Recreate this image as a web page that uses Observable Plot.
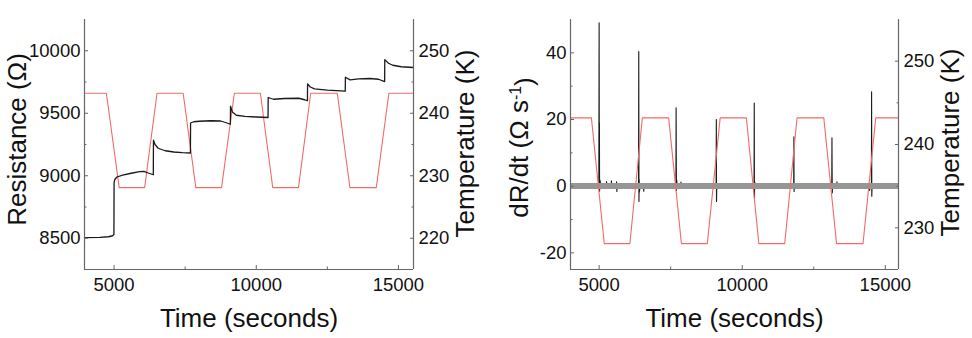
<!DOCTYPE html>
<html><head><meta charset="utf-8">
<script src="https://cdn.jsdelivr.net/npm/d3@7"></script>
<script src="https://cdn.jsdelivr.net/npm/@observablehq/plot@0.6"></script>
<style>
body{margin:0;background:#fff;}
#wrap{display:flex;width:972px;height:338px;background:#fff;}
</style></head><body><div id="wrap"></div>
<script>
// ---------- data ----------
const timeDomainLeft = [3960, 15530];
const timeDomainRight = [4000, 15460];
const resDomain = [8250, 10250];
const rateDomain = [-25, 50];
const tempDomainLeft = [215, 255];
const tempDomainRight = [225, 255];

const timeTicks = [5000, 10000, 15000];
const timeMinor = [7500, 12500];
const resTicks = [8500, 9000, 9500, 10000];
const resMinor = [8750, 9250, 9750];
const rateTicks = [-20, 0, 20, 40];
const rateMinor = [-10, 10, 30];
const tempTicksLeft = [220, 230, 240, 250];
const tempMinorLeft = [225, 235, 245];
const tempTicksRight = [230, 240, 250];
const tempMinorRight = [235, 245];

// temperature program (K)
const tempTime = [3960, 4730, 5180, 6075, 6510, 7430, 7875, 8780, 9230, 10145, 10580, 11485, 11915, 12850, 13295, 14220, 14665, 15530];
const tempK    = [243.2, 243.2, 228.1, 228.1, 243.2, 243.2, 228.1, 228.1, 243.2, 243.2, 228.1, 228.1, 243.2, 243.2, 228.1, 228.1, 243.2, 243.2];

// resistance (time s, ohm)
const resistance = [
  [3960,8505],[4500,8507],[4800,8512],[4950,8520],[4995,8530],[5000,8940],[5020,8968],[5100,8990],[5300,9005],[5600,9020],[5900,9033],[6050,9035],[6200,9022],[6380,9008],
  [6385,9284],[6440,9250],[6550,9220],[6800,9200],[7100,9190],[7400,9185],[7685,9182],
  [7690,9422],[7800,9432],[8000,9436],[8400,9440],[8750,9438],[9000,9420],[9090,9412],
  [9095,9556],[9160,9510],[9300,9484],[9600,9475],[10000,9470],[10415,9466],
  [10420,9626],[10600,9612],[11000,9618],[11500,9620],[11700,9608],[11800,9600],
  [11805,9735],[11900,9710],[12050,9695],[12500,9685],[13130,9677],
  [13135,9788],[13300,9767],[13600,9775],[14000,9778],[14300,9772],[14515,9753],
  [14520,9929],[14650,9900],[14800,9884],[15100,9872],[15530,9866]
];

// dR/dt (time s, ohm/s)
const dRdt = [
  [4000,0],[4990,0],[5000,49],[5006,4],[5010,19],[5016,-1.5],[5030,1.8],[5060,0],
  [5250,0],[5260,1.4],[5270,0],[5420,0],[5430,1.6],[5440,0],[5600,0],[5610,1.3],[5620,-1.6],[5630,0],
  [6378,0],[6385,40.4],[6392,-4.6],[6400,2],[6408,-1.8],[6430,0],[6550,0],[6560,-1.5],[6570,0],
  [7683,0],[7690,23.5],[7696,8],[7702,-1.3],[7710,1.8],[7730,0],[7850,0],[7860,1.2],[7870,0],
  [9088,0],[9095,20],[9102,-4.6],[9110,0],
  [10413,0],[10420,24.9],[10427,-3.5],[10436,1.2],[10450,0],
  [11798,0],[11805,14.8],[11812,-1.6],[11820,0],
  [13128,0],[13135,14.5],[13141,3.8],[13147,-2],[13157,0],[13300,0],[13310,1.3],[13320,0],
  [14440,0],[14450,-1.3],[14460,0],[14513,0],[14520,28.3],[14527,-3],[14536,0],[15460,0]
];

// reference measurement noise band (ohm/s)
const noiseTime = [4000, 15460];
const noiseLow = [-1.0, -1.0];
const noiseHigh = [0.8, 0.8];

// ---------- style ----------
const FONT = "'Liberation Sans', Arial, Helvetica, sans-serif";
const frameColor = "#666";
const textColor = "#111";
const red = "#f26b6b";
const fmt = d => String(d);

function axes(xTicks, xMinor, yTicks, yMinor, rTicks, rMinor, rFormat) {
  return [
    Plot.axisX(xTicks, {tickSize: -4, tickPadding: 12, tickFormat: fmt, stroke: frameColor, fill: textColor, label: null, fontSize: 18.5}),
    Plot.axisX(xMinor, {tickSize: -2.5, text: null, stroke: frameColor, label: null}),
    Plot.axisY(yTicks, {anchor: "left", tickSize: -4, tickPadding: 8, tickFormat: fmt, stroke: frameColor, fill: textColor, label: null, fontSize: 18.5}),
    Plot.axisY(yMinor, {anchor: "left", tickSize: -2.5, text: null, stroke: frameColor, label: null}),
    Plot.axisY(rTicks, {anchor: "right", tickSize: -4, tickPadding: 9, tickFormat: rFormat, stroke: frameColor, fill: textColor, label: null, fontSize: 18.5}),
    Plot.axisY(rMinor, {anchor: "right", tickSize: -2.5, text: null, stroke: frameColor, label: null})
  ];
}

const tempRows = tempTime.map((t, i) => ({t, T: tempK[i]}));

// ---------- left panel ----------
const tL = d3.scaleLinear(tempDomainLeft, resDomain);
const left = Plot.plot({
  width: 486, height: 338,
  marginLeft: 84, marginRight: 73, marginTop: 19, marginBottom: 69,
  style: {fontFamily: FONT, fontSize: "18.5px", color: textColor, background: "#fff"},
  x: {domain: timeDomainLeft},
  y: {domain: resDomain},
  marks: [
    Plot.line(tempRows, {x: "t", y: d => tL(d.T), stroke: red, strokeWidth: 1.1}),
    Plot.line(resistance, {x: d => d[0], y: d => d[1], stroke: "#1a1a1a", strokeWidth: 1.3}),
    Plot.ruleX(timeDomainLeft, {stroke: frameColor, strokeWidth: 1.2}),
    Plot.ruleY([resDomain[0]], {stroke: frameColor, strokeWidth: 1.2}),
    ...axes(timeTicks, timeMinor, resTicks, resMinor, tempTicksLeft.map(tL), tempMinorLeft.map(tL), r => String(Math.round(tL.invert(r)))),
    Plot.text(["Resistance (Ω)"], {text: d => d, frameAnchor: "left", textAnchor: "middle", rotate: -90, dx: -66.5, dy: -5, fontSize: 26, fill: textColor}),
    Plot.text(["Temperature (K)"], {text: d => d, frameAnchor: "right", textAnchor: "middle", rotate: -90, dx: 52, dy: -1, fontSize: 26, fill: textColor}),
    Plot.text(["Time (seconds)"], {text: d => d, frameAnchor: "bottom", lineAnchor: "top", dy: 39, fontSize: 26, fill: textColor})
  ]
});

// ---------- right panel ----------
const tR = d3.scaleLinear(tempDomainRight, rateDomain);
const noiseRows = noiseTime.map((t, i) => ({t, lo: noiseLow[i], hi: noiseHigh[i]}));
const right = Plot.plot({
  width: 486, height: 338,
  marginLeft: 84, marginRight: 74, marginTop: 19, marginBottom: 69,
  style: {fontFamily: FONT, fontSize: "18.5px", color: textColor, background: "#fff"},
  x: {domain: timeDomainRight},
  y: {domain: rateDomain},
  marks: [
    Plot.line(dRdt, {x: d => d[0], y: d => d[1], stroke: "#1a1a1a", strokeWidth: 1.1}),
    Plot.areaY(noiseRows, {x: "t", y1: "lo", y2: "hi", fill: "#969696"}),
    Plot.line(tempRows, {x: "t", y: d => tR(d.T), stroke: red, strokeWidth: 1.1, clip: true}),
    Plot.ruleX(timeDomainRight, {stroke: frameColor, strokeWidth: 1.2}),
    Plot.ruleY([rateDomain[0]], {stroke: frameColor, strokeWidth: 1.2}),
    ...axes(timeTicks, timeMinor, rateTicks, rateMinor, tempTicksRight.map(tR), tempMinorRight.map(tR), r => String(Math.round(tR.invert(r)))),
    Plot.text(["dR/dt (Ω s-1)"], {text: d => d, frameAnchor: "left", textAnchor: "middle", rotate: -90, dx: -50.5, dy: 3, fontSize: 26, fill: textColor}),
    Plot.text(["Temperature (K)"], {text: d => d, frameAnchor: "right", textAnchor: "middle", rotate: -90, dx: 52, dy: -2, fontSize: 26, fill: textColor}),
    Plot.text(["Time (seconds)"], {text: d => d, frameAnchor: "bottom", lineAnchor: "top", dy: 39, fontSize: 26, fill: textColor})
  ]
});

// superscript in the dR/dt label
d3.select(right).selectAll("text").filter(function() { return this.textContent === "dR/dt (Ω s-1)"; })
  .each(function() {
    const t = d3.select(this);
    t.text(null);
    t.append("tspan").text("dR/dt (Ω s");
    t.append("tspan").attr("dy", "-0.45em").attr("font-size", "16px").text("-1");
    t.append("tspan").attr("dy", "0.45em").text(")");
  });

document.getElementById("wrap").append(left, right);
</script></body></html>
